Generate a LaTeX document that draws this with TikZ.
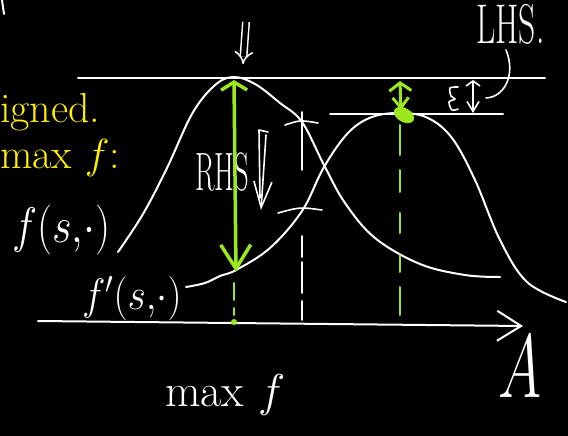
\RequirePackage{fix-cm}
\documentclass[tikz,border=0pt]{standalone}
\usepackage{graphicx}
\usepackage{tikz}
\usetikzlibrary{arrows.meta, positioning}
\definecolor{chalkgreen}{RGB}{155,232,30}
\definecolor{chalkyellow}{RGB}{255,240,0}
\tikzset{
  chalk/.style={white, line width=2pt, line cap=round, line join=round},
  thinchalk/.style={white, line width=1.6pt, line cap=round, line join=round},
  greenchalk/.style={chalkgreen, line width=3.5pt, line cap=round, line join=round},
  gdash/.style={chalkgreen, line width=2pt, line cap=round},
  lbl/.style={white, inner sep=0pt}
}

\begin{document}
\begin{tikzpicture}[x=1pt, y=-1pt]
  \fill[black] (0,0) rectangle (568,436);
  \useasboundingbox (0,0) rectangle (568,436);

  % key points
  \coordinate (pk1) at (233,77);
  \coordinate (pk2) at (401,113);
  \coordinate (low) at (236,272);
  \coordinate (o1) at (234,322);
  \coordinate (axl) at (38,321);
  \coordinate (axr) at (523,326);

  % level lines
  \draw[chalk] (78,78) -- (545,78);
  \draw[chalk] (330,114) -- (503,114);

  % axis
  \draw[chalk, -{Straight Barb[length=24pt, width=30pt]}] (axl) -- (axr);
  \node[lbl, anchor=base] (A) at (520,397) {\scalebox{0.65}[1]{\fontsize{90}{90}\selectfont$A$}};

  % labels
  \node[lbl, anchor=base west, font=\fontsize{50}{50}\selectfont] (fs) at (12,242) {\scalebox{0.85}[1]{$f(s,\!\cdot)$}};
  \node[lbl, anchor=base west, font=\fontsize{44}{44}\selectfont] (fps) at (82,309) {\scalebox{0.9}[1]{$f'(s,\!\cdot)$}};
  \node[lbl, anchor=base west, font=\fontsize{46}{46}\selectfont] (mx) at (165,406) {max $f$};
  \node[lbl, font=\fontsize{54}{54}\selectfont] (rhs) at (222,172) {\scalebox{0.53}[1]{RHS}};
  \node[lbl, anchor=base west, font=\fontsize{56}{56}\selectfont] (lhs) at (476,44) {\scalebox{0.6}[1]{LHS.}};
  \node[text=chalkyellow, inner sep=0pt, anchor=base west, font=\fontsize{42}{42}\selectfont] (yl1) at (0,122) {igned.};
  \node[text=chalkyellow, inner sep=0pt, anchor=base west, font=\fontsize{42}{42}\selectfont] (yl2) at (0,168) {max $f$:};

  % the two curves
  \draw[chalk] plot[smooth, tension=0.6] coordinates {(118,252) (143,214) (167,168) (192,114) (214,86) (pk1) (255,84) (280,103) (302,122) (324,165) (345,203) (375,238) (420,264) (465,275) (500,277)};
  \draw[chalk] plot[smooth, tension=0.6] coordinates {(186,287) (205,283) (220,276) (236,270) (270,248) (302,211) (324,167) (348,133) (372,117) (pk2) (428,118) (452,138) (475,180) (500,240) (527,282) (566,302)};

  % white dashed guide with ticks
  \foreach \a/\b in {112/170, 236/257, 262/293, 301/320}
    \draw[thinchalk] (302,\a) -- (302,\b);
  \draw[thinchalk] (285,125) .. controls (300,120) .. (318,123);
  \draw[thinchalk] (278,213) .. controls (300,207) .. (322,210);

  % RHS bracket
  \draw[thinchalk] (268,132) -- (259,130) -- (260,198);
  \draw[thinchalk, -{Straight Barb[length=26pt, width=18pt]}] (266,135) -- (261,210);

  % LHS marks
  \draw[thinchalk] (506,50) .. controls (516,74) and (505,97) .. (486,98);
  \draw[thinchalk, {Straight Barb[length=5pt, width=14pt]}-{Straight Barb[length=10pt, width=12pt]}] (473,80) -- (473,113);
  \draw[thinchalk] plot[smooth] coordinates {(458,87) (450,88) (451,96) (455,99) (449,102) (452,110) (458,109)};

  % arrow above first peak
  \draw[white, line width=1.5pt, double=black, double distance=5pt, -{Implies}] (246,22) -- (243,64);
  \draw[chalk] (2,0) -- (4,14);

  % green arrows and dashes
  \draw[greenchalk, {Straight Barb[length=8pt, width=26pt]}-{Straight Barb[length=24pt, width=30pt]}] (234,80) -- (low);
  \foreach \a/\b in {283/300, 308/315}
    \draw[gdash] (234,\a) -- (234,\b);
  \fill[chalkgreen] (o1) circle (3pt);

  \draw[greenchalk, line width=3pt, {Straight Barb[length=8pt, width=22pt]}-{Straight Barb[length=10pt, width=16pt]}] (400,81) -- (401,110);
  \fill[chalkgreen] (404,115) ellipse [x radius=11, y radius=7, rotate=-30];
  \foreach \a/\b in {125/155, 170/192, 213/233, 255/272, 287/315}
    \draw[gdash] (400,\a) -- (400,\b);
\end{tikzpicture}
\end{document}
